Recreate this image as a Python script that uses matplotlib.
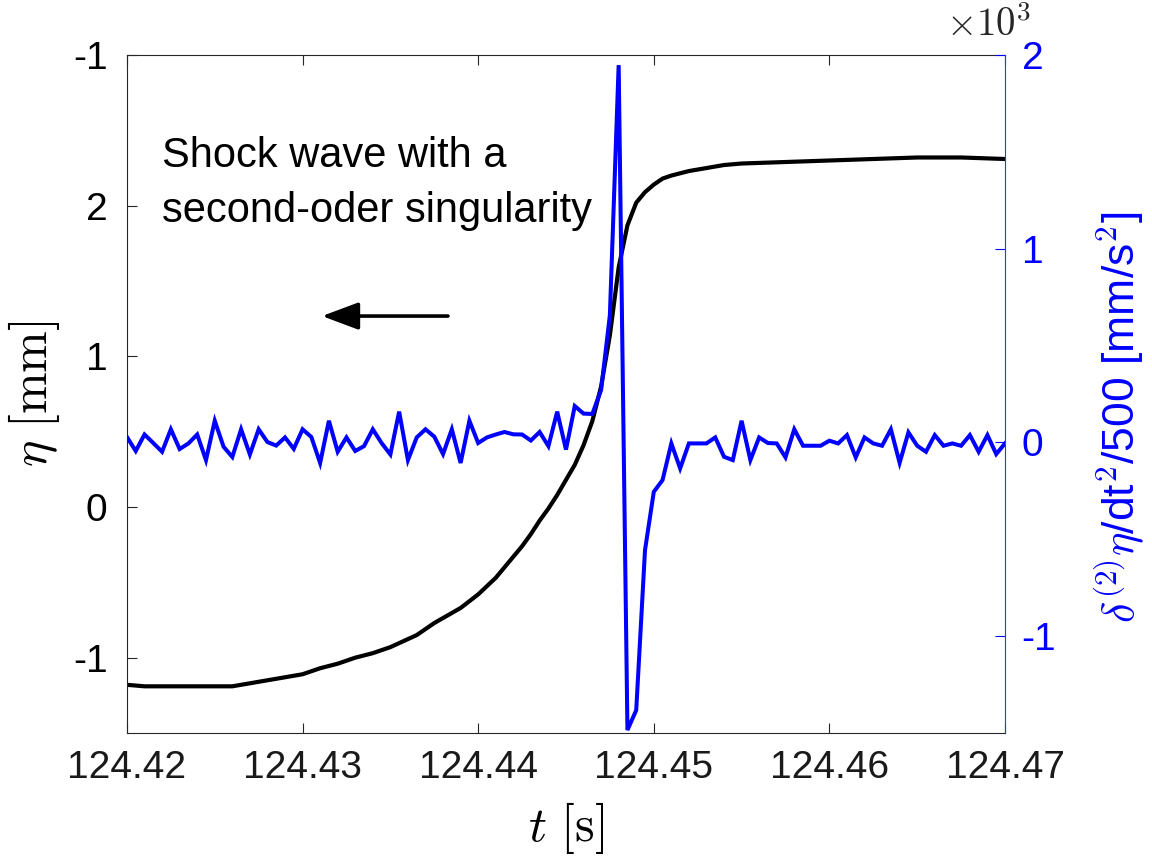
import numpy as np
import matplotlib
matplotlib.use("Agg")
import matplotlib.pyplot as plt

plt.rcParams['font.family'] = ['Liberation Sans', 'DejaVu Sans']
plt.rcParams['mathtext.fontset'] = 'cm'

# ---- data ----
t0 = 124.42
dt = 0.0005
# second derivative / 500  [mm/s^2], sampled every dt from t0
d2eta = [28, -44, 41, -3, -48, 68, -34, -5, 41, -91,
         112, -22, -75, 68, -62, 68, 2, -16, 26, -33,
         68, 28, -106, 112, -48, 26, -44, -19, 68, -3,
         -62, 159, -91, 26, 68, 30, -60, 68, -106, 112,
         -3, 26, 41, 54, 42, 41, 10, 54, -19, 159,
         -37, 188, 149, 147, 271, 658, 1948, -1485, -1382, -556,
         -255, -194, -5, -134, -5, -5, -5, 26, -74, -91,
         112, -91, 26, -3, -5, -77, 68, -17, -17, -17,
         9, -5, 38, -77, 26, -5, -17, 68, -105, 52,
         -17, -48, 38, -17, -5, -17, 38, -48, 38, -60, -5]

# surface elevation eta [mm]
t_eta = [124.4200, 124.4210, 124.4220, 124.4230, 124.4245, 124.4260, 124.4270,
         124.4285, 124.4300, 124.4310, 124.4320, 124.4330, 124.4340, 124.4350,
         124.4365, 124.4375, 124.4390, 124.4400, 124.4410, 124.4420, 124.4425,
         124.4430, 124.4435, 124.4440, 124.4445, 124.4450, 124.4455, 124.4460,
         124.4465, 124.4470, 124.4475, 124.4480, 124.4485, 124.4490, 124.4495,
         124.4500, 124.4505, 124.4510, 124.4520, 124.4530, 124.4540, 124.4550,
         124.4575, 124.4600, 124.4625, 124.4650, 124.4675, 124.4700]
eta = [-1.18, -1.19, -1.19, -1.19, -1.19, -1.19, -1.17,
       -1.14, -1.11, -1.07, -1.04, -1.00, -0.97, -0.93,
       -0.85, -0.77, -0.67, -0.58, -0.47, -0.33, -0.26,
       -0.18, -0.09, -0.01, 0.08, 0.18, 0.28, 0.41,
       0.57, 0.80, 1.14, 1.59, 1.87, 2.02, 2.09,
       2.14, 2.18, 2.20, 2.23, 2.25, 2.27, 2.28,
       2.29, 2.30, 2.31, 2.32, 2.32, 2.31]

x_ticks = [124.42, 124.43, 124.44, 124.45, 124.46, 124.47]
x_ticklabels = ['124.42', '124.43', '124.44', '124.45', '124.46', '124.47']
yl_ticks = [-1, 0, 1, 2, 3]
yl_ticklabels = ['-1', '0', '1', '2', '-1']
yr_ticks = [-1000, 0, 1000, 2000]
yr_ticklabels = ['-1', '0', '1', '2']

t_d2 = t0 + dt * np.arange(len(d2eta))

# ---- figure ----
fig = plt.figure(figsize=(11.52, 8.64), dpi=100)
ax = fig.add_axes([0.1102, 0.1516, 0.7622, 0.7847])
ax2 = ax.twinx()

blue = '#0000ff'
axcol = '#262626'

ax.plot(t_eta, eta, color='k', lw=3.0, solid_joinstyle='round')
ax2.plot(t_d2, d2eta, color=blue, lw=2.9, solid_joinstyle='miter')

ax.set_xlim(124.42, 124.47)
ax.set_ylim(-1.5, 3)
ax2.set_ylim(-1500, 2000)

ax.set_xticks(x_ticks)
ax.set_xticklabels(x_ticklabels)
ax.set_yticks(yl_ticks)
ax.set_yticklabels(yl_ticklabels)
ax2.set_yticks(yr_ticks)
ax2.set_yticklabels(yr_ticklabels)

ax.tick_params(axis='x', direction='in', length=7, width=0.8, top=True,
               labelsize=28, colors=axcol, labelcolor='#1a1a1a', pad=12)
ax.tick_params(axis='y', direction='in', length=7, width=0.8,
               labelsize=28, colors=axcol, labelcolor='k', pad=14)
ax2.tick_params(axis='y', direction='in', length=7, width=0.8,
                labelsize=28, colors=blue, labelcolor=blue, pad=12)

for s in ['left', 'bottom', 'top']:
    ax.spines[s].set_color(axcol)
    ax.spines[s].set_linewidth(0.8)
ax.spines['right'].set_visible(False)
for s in ['left', 'bottom', 'top']:
    ax2.spines[s].set_visible(False)
ax2.spines['right'].set_color('#3333ff')
ax2.spines['right'].set_linewidth(0.8)

ax.set_xlabel(r'$t\ [\mathrm{s}]$', fontsize=36, labelpad=10)
ax.set_ylabel(r'$\eta\ [\mathrm{mm}]$', fontsize=36)
ax.yaxis.set_label_coords(-0.074, 0.50)

ax2.set_ylabel(r'$\delta^{(2)}\eta$/dt$^2$/500 [mm/s$^2$]', fontsize=32,
               color=blue, rotation=90)
ax2.yaxis.set_label_coords(1.100, 0.465)

ax.text(1.03, 1.028, r'$\times10^{3}$', transform=ax.transAxes,
        ha='right', va='baseline', fontsize=28, color='#262626')

ax.text(0.040, 0.835, 'Shock wave with a', transform=ax.transAxes,
        ha='left', va='baseline', fontsize=30)
ax.text(0.040, 0.754, 'second-oder singularity', transform=ax.transAxes,
        ha='left', va='baseline', fontsize=30)

ax.annotate('', xy=(0.2221, 0.615), xytext=(0.3656, 0.615),
            xycoords='axes fraction', textcoords='axes fraction',
            arrowprops=dict(arrowstyle='-|>,head_length=0.75,head_width=0.28',
                            lw=2.6, color='k', mutation_scale=30,
                            shrinkA=0, shrinkB=0))

fig.savefig('out.png', dpi=100)
